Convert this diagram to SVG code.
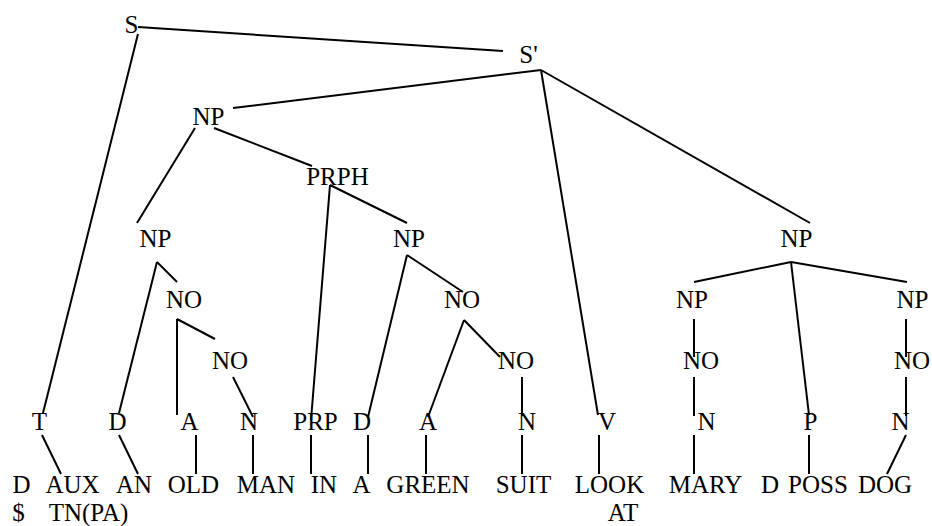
<svg xmlns="http://www.w3.org/2000/svg" width="932" height="526" viewBox="0 0 932 526">
  <style>
    .lbl text { font-size: 25px; fill: #000; text-anchor: middle; }
    .edges line { stroke: #000; stroke-width: 2; stroke-linecap: butt; }
  </style>
  <rect width="932" height="526" fill="#fff"/>

  <!-- tree edges -->
  <g id="edges" class="edges">
    <line x1="138" y1="27" x2="503" y2="51"/>
    <line x1="138" y1="34" x2="43" y2="413"/>
    <line x1="541" y1="70" x2="233" y2="108"/>
    <line x1="541" y1="70" x2="598" y2="415"/>
    <line x1="541" y1="70" x2="810" y2="223"/>
    <line x1="195" y1="128" x2="137" y2="223"/>
    <line x1="214" y1="128" x2="312" y2="166"/>
    <line x1="330" y1="185" x2="311" y2="420"/>
    <line x1="330" y1="185" x2="407" y2="223"/>
    <line x1="157" y1="262" x2="119" y2="413"/>
    <line x1="157" y1="262" x2="177" y2="282"/>
    <line x1="177" y1="319" x2="177" y2="415"/>
    <line x1="177" y1="319" x2="215" y2="339"/>
    <line x1="233" y1="377" x2="253" y2="417"/>
    <line x1="407" y1="255" x2="368" y2="417"/>
    <line x1="407" y1="255" x2="463" y2="292"/>
    <line x1="464" y1="320" x2="428" y2="417"/>
    <line x1="464" y1="320" x2="500" y2="357"/>
    <line x1="522" y1="377" x2="522" y2="416"/>
    <line x1="791" y1="262" x2="694" y2="282"/>
    <line x1="791" y1="262" x2="907" y2="282"/>
    <line x1="791" y1="262" x2="809" y2="415"/>
    <line x1="694" y1="319" x2="694" y2="357"/>
    <line x1="694" y1="377" x2="694" y2="416"/>
    <line x1="906" y1="319" x2="906" y2="357"/>
    <line x1="906" y1="377" x2="906" y2="416"/>
    <!-- preterminal to word -->
    <line x1="42" y1="435" x2="61" y2="474"/>
    <line x1="119" y1="435" x2="138" y2="474"/>
    <line x1="196" y1="435" x2="196" y2="474"/>
    <line x1="253" y1="435" x2="253" y2="474"/>
    <line x1="311" y1="435" x2="311" y2="474"/>
    <line x1="368" y1="435" x2="368" y2="474"/>
    <line x1="426" y1="435" x2="426" y2="474"/>
    <line x1="522" y1="435" x2="522" y2="474"/>
    <line x1="599" y1="435" x2="599" y2="474"/>
    <line x1="694" y1="435" x2="694" y2="474"/>
    <line x1="809" y1="435" x2="809" y2="474"/>
    <line x1="906" y1="435" x2="887" y2="474"/>
  </g>

  <g class="lbl" font-family="Liberation Serif, serif">
  <!-- phrase nodes -->
  <g id="n-s"><text x="131.5" y="33">S</text></g>
  <g id="n-sbar"><text x="528.5" y="63">S'</text></g>
  <g id="n-np1"><text x="208.5" y="125">NP</text></g>
  <g id="n-prph"><text x="337.5" y="185">PRPH</text></g>
  <g id="n-np2"><text x="155.5" y="247">NP</text></g>
  <g id="n-np3"><text x="409" y="247">NP</text></g>
  <g id="n-np4"><text x="796.5" y="247">NP</text></g>
  <g id="n-no1"><text x="184" y="308">NO</text></g>
  <g id="n-no2"><text x="462" y="308">NO</text></g>
  <g id="n-np5"><text x="692" y="308">NP</text></g>
  <g id="n-np6"><text x="912.5" y="308">NP</text></g>
  <g id="n-no3"><text x="230" y="369">NO</text></g>
  <g id="n-no4"><text x="516" y="369">NO</text></g>
  <g id="n-no5"><text x="701" y="369">NO</text></g>
  <g id="n-no6"><text x="912" y="369">NO</text></g>

  <!-- preterminals -->
  <g id="p-t"><text x="39.5" y="430">T</text></g>
  <g id="p-d1"><text x="117.5" y="430">D</text></g>
  <g id="p-a1"><text x="189.5" y="430">A</text></g>
  <g id="p-n1"><text x="249" y="430">N</text></g>
  <g id="p-prp"><text x="315.5" y="430">PRP</text></g>
  <g id="p-d2"><text x="362" y="430">D</text></g>
  <g id="p-a2"><text x="428" y="430">A</text></g>
  <g id="p-n2"><text x="527" y="430">N</text></g>
  <g id="p-v"><text x="607" y="430">V</text></g>
  <g id="p-n3"><text x="706.5" y="430">N</text></g>
  <g id="p-p"><text x="810.5" y="430">P</text></g>
  <g id="p-n4"><text x="900.5" y="430">N</text></g>

  <!-- words -->
  <g id="w-d"><text x="21.5" y="493">D</text><text x="18.5" y="521">$</text></g>
  <g id="w-aux"><text x="72.5" y="493">AUX</text><text x="88.5" y="521">TN(PA)</text></g>
  <g id="w-an"><text x="134" y="493">AN</text></g>
  <g id="w-old"><text x="193.5" y="493">OLD</text></g>
  <g id="w-man"><text x="266" y="493">MAN</text></g>
  <g id="w-in"><text x="324" y="493">IN</text></g>
  <g id="w-a"><text x="361.5" y="493">A</text></g>
  <g id="w-green"><text x="428" y="493">GREEN</text></g>
  <g id="w-suit"><text x="523.5" y="493">SUIT</text></g>
  <g id="w-look"><text x="609.5" y="493">LOOK</text><text x="623" y="521">AT</text></g>
  <g id="w-mary"><text x="705.5" y="493">MARY</text></g>
  <g id="w-dposs"><text x="770" y="493">D</text><text x="818" y="493">POSS</text></g>
  <g id="w-dog"><text x="885" y="493">DOG</text></g>
  </g>
</svg>
